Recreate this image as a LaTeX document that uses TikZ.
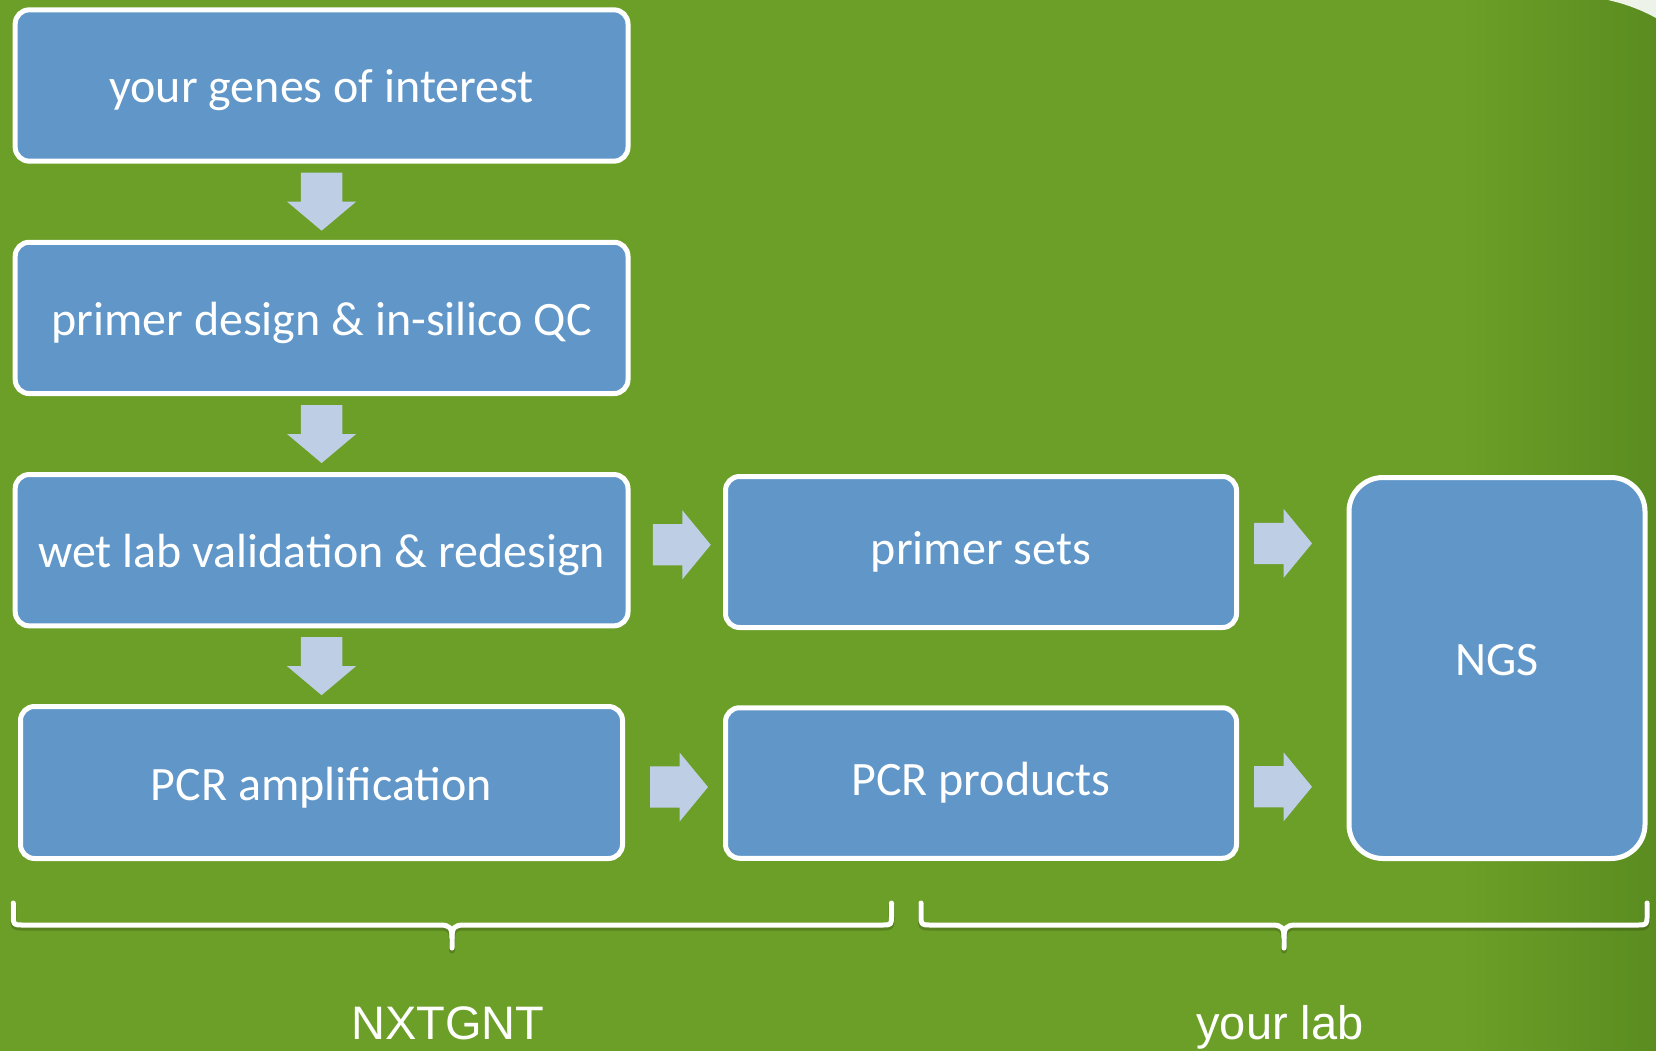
\documentclass[tikz,border=0pt]{standalone}
\usepackage{fontspec}
\setmainfont{Carlito}
\newfontfamily\labelfont{Liberation Sans}
\usetikzlibrary{calc}

\definecolor{bgbase}{RGB}{107,159,39}
\definecolor{bgdark}{RGB}{90,140,32}
\definecolor{boxblue}{RGB}{96,150,200}
\definecolor{arrowblue}{RGB}{190,206,228}

\tikzset{
  stepbox/.style={draw=white, line width=5pt, fill=boxblue, rounded corners=14pt,
    text=white, inner sep=0pt, font=\fontsize{48}{58}\selectfont},
  lowtext/.style={text height=45pt, text depth=10pt},
  bigbox/.style={stepbox, rounded corners=34pt},
  bracepath/.style={draw=white, line width=5pt, line cap=round, line join=round},
  braceshadow/.style={draw=black, opacity=0.18, line width=6pt, line cap=round, line join=round},
  grouplabel/.style={text=white, font=\labelfont\fontsize{47}{55}\selectfont, anchor=base},
  downarr/.pic={\fill[arrowblue] (-20.8,-29) -- (20.8,-29) -- (20.8,0) -- (34.5,0)
      -- (0,29) -- (-34.5,0) -- (-20.8,0) -- cycle;},
  rightarr/.pic={\fill[arrowblue] (-29,-20.6) -- (0.6,-20.6) -- (0.6,-34.5) -- (29,0)
      -- (0.6,34.5) -- (0.6,20.6) -- (-29,20.6) -- cycle;}
}

\begin{document}
\begin{tikzpicture}[x=1pt, y=-1pt]
  % background: flat green, darkening slightly towards the right edge
  \useasboundingbox (0,0) rectangle (1656,1051);
  \fill[bgbase] (0,0) rectangle (1656,1051);
  \shade[left color=bgbase, right color=bgdark, shading angle=90] (1460,0) rectangle (1656,1051);
  \fill[white, opacity=0.9] (1608,0) .. controls (1630,5) and (1645,12) .. (1656,18) -- (1656,0) -- cycle;

  % left column
  \node[stepbox, lowtext, minimum width=612.8pt, minimum height=151.3pt] (genes) at (321.6,85.5) {your genes of interest};
  \node[stepbox, lowtext, minimum width=612.8pt, minimum height=151.3pt] (design) at (321.6,317.9) {primer design \& in-silico QC};
  \node[stepbox, lowtext, minimum width=612.8pt, minimum height=151.3pt] (wetlab) at (321.6,550.2) {wet lab validation \& redesign};
  \node[stepbox, lowtext, minimum width=602pt, minimum height=152pt] (pcr) at (321.5,782.5) {PCR amplification};

  % middle column
  \node[stepbox, minimum width=511pt, minimum height=151pt] (sets) at (981,552) {primer sets};
  \node[stepbox, minimum width=511pt, minimum height=150.5pt] (products) at (981,783) {PCR products};

  % sequencing
  \node[bigbox, minimum width=296pt, minimum height=381pt, text depth=0pt, text height=0pt] (ngs) at (1497,668) {};
  \node[text=white, font=\fontsize{48}{58}\selectfont, anchor=base] (ngstext) at ($(ngs.center)+(0,7)$) {NGS};

  % flow arrows
  \pic at ($(genes.south)!0.5!(design.north)$) {downarr};
  \pic at ($(design.south)!0.5!(wetlab.north)$) {downarr};
  \pic at ($(wetlab.south)!0.5!(pcr.north)$) {downarr};
  \pic at ($(wetlab.east)!0.5!(sets.west)+(5,-6.3)$) {rightarr};
  \pic at ($(pcr.east)!0.5!(products.west)+(5,4.3)$) {rightarr};
  \pic at ($(sets.east)+(44,-8.6)$) {rightarr};
  \pic at ($(products.east)+(44,3.8)$) {rightarr};

  % braces
  \foreach \s/\o in {braceshadow/2.5, bracepath/0} {
    \draw[\s, shift={(0,\o)}] (13.3,903) -- (13.3,915) .. controls (13.3,925) .. (23,925)
      -- (440,925) .. controls (450,925) and (452,928) .. (452,938) -- (452,948);
    \draw[\s, shift={(0,\o)}] (452,938) .. controls (452,928) and (454,925) .. (464,925)
      -- (882,925) .. controls (891.5,925) .. (891.5,915) -- (891.5,903);
    \draw[\s, shift={(0,\o)}] (921,903) -- (921,915) .. controls (921,925) .. (931,925)
      -- (1272,925) .. controls (1282,925) and (1284,928) .. (1284,938) -- (1284,948);
    \draw[\s, shift={(0,\o)}] (1284,938) .. controls (1284,928) and (1286,925) .. (1296,925)
      -- (1637,925) .. controls (1647,925) .. (1647,915) -- (1647,903);
  }

  % group labels
  \node[grouplabel] (nxtgnt) at (448,1039) {NXTGNT};
  \node[grouplabel] (yourlab) at (1280,1039) {your lab};
\end{tikzpicture}
\end{document}
